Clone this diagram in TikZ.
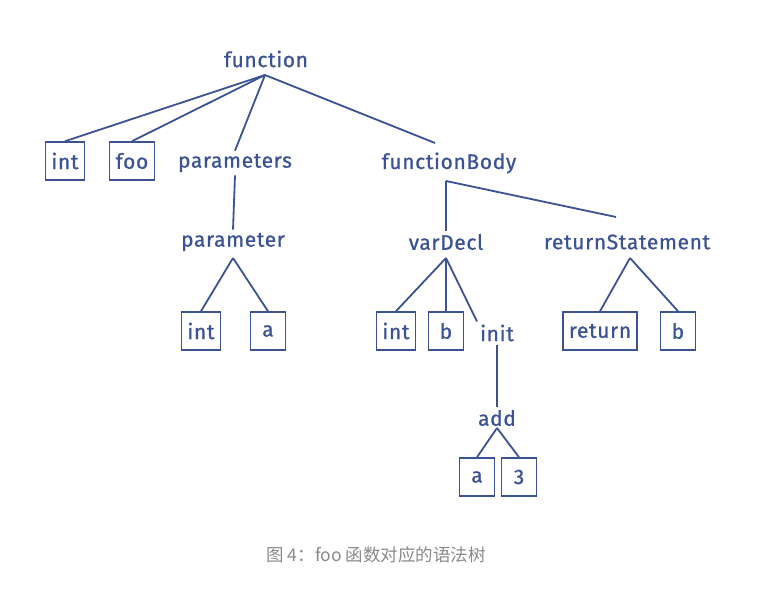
\documentclass[tikz,border=0pt]{standalone}
\usepackage{fontspec}
\setmainfont{Fira Sans}
\newfontfamily\treefont{Fira Sans}[FakeBold=0.8,LetterSpace=3]
\newfontfamily\cjk{Noto Sans CJK SC}
\definecolor{inkblue}{HTML}{3B5394}
\definecolor{captiongray}{HTML}{8A8A8A}
\tikzset{
  treetext/.style={inkblue,font=\treefont\fontsize{21}{24}\selectfont,inner sep=3pt},
  leafbox/.style={treetext,draw,line width=1.6pt,minimum height=38pt,minimum width=35pt,inner xsep=6pt},
  branch/.style={inkblue,line width=1.8pt}
}
\begin{document}
\begin{tikzpicture}[x=1pt,y=-1pt]
\useasboundingbox[fill=white] (0,0) rectangle (781,589);
\node[treetext] (function) at (266,59) {function};
\node[leafbox] (int1) at (65,161) {int};
\node[leafbox] (foo) at (132,161) {foo};
\node[treetext] (parameters) at (235,163) {parameters};
\node[treetext] (functionBody) at (449,163) {functionBody};
\node[treetext] (parameter) at (233,242) {parameter};
\node[leafbox] (int2) at (201,331) {int};
\node[leafbox] (a1) at (268,331) {a};
\node[treetext] (varDecl) at (446,242) {varDecl};
\node[treetext] (returnStatement) at (627,242) {returnStatement};
\node[leafbox] (int3) at (396,331) {int};
\node[leafbox] (b1) at (446,331) {b};
\node[treetext] (init) at (497,333) {init};
\node[leafbox] (return) at (600,331) {return};
\node[leafbox] (b2) at (678,331) {b};
\node[treetext] (add) at (497,418) {add};
\node[leafbox] (a2) at (477,477) {a};
\node[leafbox] (three) at (519,477) {3};

\draw[branch] (265,75) -- (int1.north);
\draw[branch] (265,75) -- (foo.north);
\draw[branch] (265,75) -- (parameters.north);
\draw[branch] (265,75) -- (435,143);
\draw[branch] (parameters.south) -- (parameter.north);
\draw[branch] (233,258) -- (int2.north);
\draw[branch] (233,258) -- (a1.north);
\draw[branch] (446,181) -- (varDecl.north);
\draw[branch] (446,181) -- (616,217);
\draw[branch] (446,258) -- (int3.north);
\draw[branch] (446,258) -- (b1.north);
\draw[branch] (446,258) -- (init.north west);
\draw[branch] (init.south) -- (add.north);
\draw[branch] (497,428) -- (a2.north);
\draw[branch] (497,428) -- (three.north);
\draw[branch] (630,258) -- (return.north);
\draw[branch] (630,258) -- (b2.north);

\node[captiongray,font=\cjk\fontsize{17.5}{20}\selectfont] (caption) at (376,555) {图 4：foo 函数对应的语法树};
\end{tikzpicture}
\end{document}
